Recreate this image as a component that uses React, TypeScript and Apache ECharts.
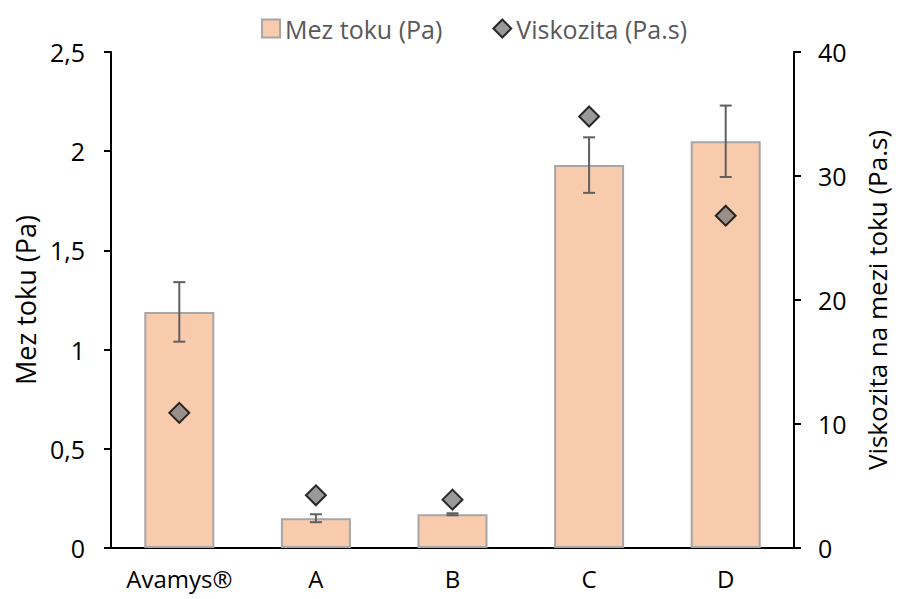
import React, { useEffect, useRef } from "react";
import * as echarts from "echarts";

const categories = ["Avamys®", "A", "B", "C", "D"];
const yieldStress = [1.19, 0.15, 0.17, 1.93, 2.05];
const yieldStressErr = [0.15, 0.02, 0.005, 0.14, 0.18];
const viscosity = [10.9, 4.25, 3.9, 34.8, 26.8];

const FONT = "'Open Sans', 'Noto Sans', sans-serif";

export default function App() {
  const ref = useRef<HTMLDivElement>(null);
  useEffect(() => {
    if (!ref.current) return;
    const chart = echarts.init(ref.current, null, { renderer: "svg" });
    const errData = categories.map((_, i) => [
      i,
      yieldStress[i] - yieldStressErr[i],
      yieldStress[i] + yieldStressErr[i],
    ]);
    chart.setOption({
      animation: false,
      backgroundColor: "#fff",
      textStyle: { fontFamily: FONT },
      legend: {
        top: 11,
        left: 256,
        itemGap: 50,
        itemWidth: 18,
        itemHeight: 18,
        textStyle: { color: "#595959", fontSize: 25, fontFamily: FONT },
        data: [
          { name: "Mez toku (Pa)", icon: "rect" },
          { name: "Viskozita (Pa.s)", icon: "diamond" },
        ],
      },
      grid: { left: 111, right: 100, top: 52, bottom: 51 },
      xAxis: {
        type: "category",
        data: categories,
        axisLine: { lineStyle: { color: "#000", width: 2 } },
        axisTick: { show: false },
        axisLabel: { color: "#000", fontSize: 24, margin: 18, interval: 0, fontFamily: FONT },
      },
      yAxis: [
        {
          type: "value",
          min: 0,
          max: 2.5,
          interval: 0.5,
          name: "Mez toku (Pa)",
          nameLocation: "middle",
          nameGap: 68,
          nameTextStyle: { color: "#000", fontSize: 27, fontFamily: FONT },
          axisLine: { show: true, lineStyle: { color: "#000", width: 2 } },
          axisTick: { show: true, length: 7, lineStyle: { width: 2, color: "#000" } },
          axisLabel: {
            color: "#000",
            fontSize: 25,
            margin: 26,
            fontFamily: FONT,
            formatter: (v: number) => String(v).replace(".", ","),
          },
          splitLine: { show: false },
        },
        {
          type: "value",
          min: 0,
          max: 40,
          interval: 10,
          name: "Viskozita na mezi toku (Pa.s)",
          nameLocation: "middle",
          nameGap: 70,
          nameRotate: 90,
          nameTextStyle: { color: "#000", fontSize: 26, fontFamily: FONT },
          axisLine: { show: true, lineStyle: { color: "#000", width: 2 } },
          axisTick: { show: true, length: 7, lineStyle: { width: 2, color: "#000" } },
          axisLabel: { color: "#000", fontSize: 25, margin: 24, fontFamily: FONT },
          splitLine: { show: false },
        },
      ],
      series: [
        {
          name: "Mez toku (Pa)",
          type: "bar",
          data: yieldStress,
          barWidth: 70,
          itemStyle: { color: "#F8CBAD", borderColor: "#A6A6A6", borderWidth: 2 },
          z: 2,
        },
        {
          name: "errors",
          type: "custom",
          data: errData,
          z: 3,
          silent: true,
          renderItem: (params: any, api: any) => {
            const x = api.value(0);
            const lo = api.coord([x, api.value(1)]);
            const hi = api.coord([x, api.value(2)]);
            const half = 6;
            const style = { stroke: "#5F5F5F", lineWidth: 2 };
            return {
              type: "group",
              children: [
                { type: "line", shape: { x1: lo[0], y1: lo[1], x2: hi[0], y2: hi[1] }, style },
                { type: "line", shape: { x1: lo[0] - half, y1: lo[1], x2: lo[0] + half, y2: lo[1] }, style },
                { type: "line", shape: { x1: hi[0] - half, y1: hi[1], x2: hi[0] + half, y2: hi[1] }, style },
              ],
            };
          },
        },
        {
          name: "Viskozita (Pa.s)",
          type: "scatter",
          yAxisIndex: 1,
          data: viscosity,
          symbol: "diamond",
          symbolSize: 20,
          itemStyle: { color: "#7F7F7F", borderColor: "#000", borderWidth: 2 },
          z: 4,
        },
      ],
    });
    return () => chart.dispose();
  }, []);
  return <div ref={ref} style={{ width: 898, height: 599, position: "absolute", left: 0, top: 0 }} />;
}
